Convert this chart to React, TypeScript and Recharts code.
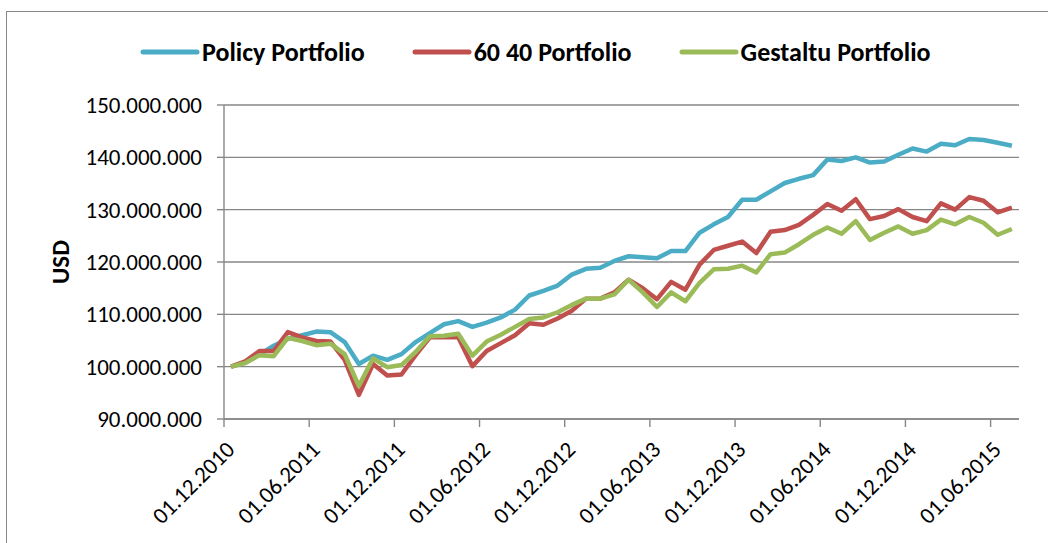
import { LineChart, Line, XAxis, YAxis, CartesianGrid } from 'recharts';

// monthly observations, Dec 2010 .. Jul 2015
const months = [
  '2010-12',
  '2011-01', '2011-02', '2011-03', '2011-04', '2011-05', '2011-06',
  '2011-07', '2011-08', '2011-09', '2011-10', '2011-11', '2011-12',
  '2012-01', '2012-02', '2012-03', '2012-04', '2012-05', '2012-06',
  '2012-07', '2012-08', '2012-09', '2012-10', '2012-11', '2012-12',
  '2013-01', '2013-02', '2013-03', '2013-04', '2013-05', '2013-06',
  '2013-07', '2013-08', '2013-09', '2013-10', '2013-11', '2013-12',
  '2014-01', '2014-02', '2014-03', '2014-04', '2014-05', '2014-06',
  '2014-07', '2014-08', '2014-09', '2014-10', '2014-11', '2014-12',
  '2015-01', '2015-02', '2015-03', '2015-04', '2015-05', '2015-06',
  '2015-07',
];

// values in million USD
const policyPortfolio = [
  100, 100.8, 102.3, 104.0, 105.3, 106.0, 106.7, 106.6, 104.7, 100.5,
  102.1, 101.3, 102.4, 104.7, 106.4, 108.1, 108.7, 107.6, 108.4, 109.4,
  110.9, 113.6, 114.5, 115.5, 117.6, 118.7, 118.9, 120.2, 121.1, 120.9,
  120.7, 122.1, 122.1, 125.6, 127.2, 128.6, 131.9, 131.9, 133.5, 135.1,
  135.9, 136.6, 139.6, 139.3, 140.0, 139.0, 139.2, 140.5, 141.7, 141.1,
  142.6, 142.3, 143.5, 143.3, 142.8, 142.2,
];

const sixtyFortyPortfolio = [
  100, 101.0, 103.0, 103.0, 106.6, 105.6, 104.9, 104.8, 101.3, 94.6,
  100.5, 98.3, 98.5, 102.2, 105.6, 105.6, 105.6, 100.1, 103.0, 104.5,
  106.0, 108.3, 108.0, 109.2, 110.7, 113.0, 113.0, 114.2, 116.6, 115.0,
  112.9, 116.2, 114.7, 119.5, 122.3, 123.1, 123.9, 121.7, 125.8, 126.1,
  127.1, 129.0, 131.1, 129.8, 132.0, 128.2, 128.8, 130.1, 128.6, 127.8,
  131.2, 130.0, 132.4, 131.7, 129.5, 130.4,
];

const gestaltuPortfolio = [
  100, 100.7, 102.2, 102.0, 105.5, 104.9, 104.1, 104.4, 102.4, 96.3,
  101.6, 99.9, 100.3, 102.8, 105.8, 105.9, 106.3, 102.1, 104.8, 106.1,
  107.6, 109.1, 109.4, 110.4, 111.8, 113.0, 113.0, 113.8, 116.6, 114.2,
  111.4, 114.2, 112.5, 116.0, 118.6, 118.7, 119.3, 118.0, 121.5, 121.8,
  123.4, 125.2, 126.6, 125.4, 127.8, 124.2, 125.6, 126.8, 125.4, 126.1,
  128.1, 127.2, 128.6, 127.5, 125.2, 126.3,
];

const xTickLabels = [
  '01.12.2010', '01.06.2011', '01.12.2011', '01.06.2012', '01.12.2012',
  '01.06.2013', '01.12.2013', '01.06.2014', '01.12.2014', '01.06.2015',
];

const yTicks = [90, 100, 110, 120, 130, 140, 150];

const series = [
  { key: 'policy', name: 'Policy Portfolio', color: '#4BACC6' },
  { key: 'sixtyForty', name: '60 40 Portfolio', color: '#C0504D' },
  { key: 'gestaltu', name: 'Gestaltu Portfolio', color: '#9BBB59' },
];

const chartData = months.map((month, i) => ({
  i,
  month,
  policy: policyPortfolio[i],
  sixtyForty: sixtyFortyPortfolio[i],
  gestaltu: gestaltuPortfolio[i],
}));

// tick marks sit between categories, one label every 6 months
const xTicks = xTickLabels.map((_, k) => k * 6 - 0.5);

const FONT = 'Carlito, Lato, sans-serif';
const AXIS_GRAY = '#878787';

const DateTick = (props: any) => {
  const { x, y, payload } = props;
  const k = Math.round((payload.value + 0.5) / 6);
  return (
    <g transform={`translate(${x + 12},${y + 22})`}>
      <text x={0} y={0} textAnchor="end" transform="rotate(-45)" fill="#000" fontSize={23} fontFamily={FONT}>
        {xTickLabels[k]}
      </text>
    </g>
  );
};

const App = () => {
  return (
    <div style={{ position: 'absolute', left: 0, top: 0, width: 1048, height: 543, background: '#fff', overflow: 'hidden' }}>
      <div
        style={{
          position: 'absolute',
          left: 6,
          top: 11,
          width: 1042,
          height: 532,
          borderTop: `1.5px solid ${AXIS_GRAY}`,
          borderLeft: `1.5px solid ${AXIS_GRAY}`,
          boxSizing: 'border-box',
        }}
      />
      <div
        style={{
          position: 'absolute',
          left: 140,
          top: 37,
          display: 'flex',
          alignItems: 'center',
          gap: 47,
          fontFamily: FONT,
          fontWeight: 'bold',
          fontSize: 26,
          lineHeight: '30px',
          color: '#000',
        }}
      >
        {series.map((s) => (
          <div key={s.key} style={{ display: 'flex', alignItems: 'center' }}>
            <svg width={60} height={10}>
              <line x1={3} y1={5} x2={57} y2={5} stroke={s.color} strokeWidth={5} strokeLinecap="round" />
            </svg>
            <span style={{ marginLeft: 2 }}>{s.name}</span>
          </div>
        ))}
      </div>
      <LineChart
        width={1048}
        height={543}
        data={chartData}
        margin={{ top: 105, right: 29, bottom: 0, left: 0 }}
        style={{ position: 'absolute', left: 0, top: 0 }}
      >
        <CartesianGrid vertical={false} stroke={AXIS_GRAY} strokeWidth={1.4} />
        <XAxis
          type="number"
          dataKey="i"
          domain={[-0.5, 55.5]}
          ticks={xTicks}
          interval={0}
          height={124}
          tickSize={8}
          stroke={AXIS_GRAY}
          strokeWidth={1.4}
          tick={<DateTick />}
        />
        <YAxis
          type="number"
          domain={[90, 150]}
          ticks={yTicks}
          interval={0}
          width={224}
          tickSize={7}
          tickMargin={15}
          stroke={AXIS_GRAY}
          strokeWidth={1.4}
          tick={{ fill: '#000', fontSize: 23, fontFamily: FONT }}
          tickFormatter={(v: number) => `${v}.000.000`}
          label={{
            value: 'USD',
            angle: -90,
            position: 'center',
            dx: -52,
            style: { fill: '#000', fontSize: 25, fontWeight: 'bold', fontFamily: FONT },
          }}
        />
        {series.map((s) => (
          <Line
            key={s.key}
            type="linear"
            dataKey={s.key}
            name={s.name}
            stroke={s.color}
            strokeWidth={4.5}
            strokeLinejoin="round"
            dot={false}
            activeDot={false}
            isAnimationActive={false}
          />
        ))}
      </LineChart>
    </div>
  );
};

export default App;
